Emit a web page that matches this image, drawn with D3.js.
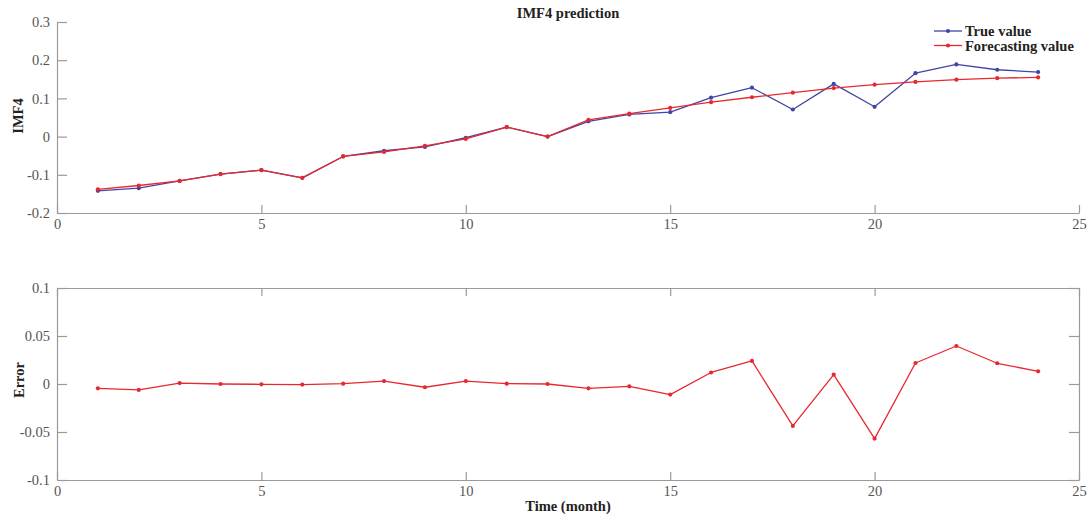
<!DOCTYPE html>
<html>
<head>
<meta charset="utf-8">
<script src="https://cdn.jsdelivr.net/npm/d3@7"></script>
<style>
  html, body { margin: 0; padding: 0; background: #fff; }
  svg { display: block; font-family: "Liberation Serif", "Times New Roman", serif; }
</style>
</head>
<body>
<svg id="chart" width="1092" height="520"></svg>
<script>
// Month index for each observation
const months = [1,2,3,4,5,6,7,8,9,10,11,12,13,14,15,16,17,18,19,20,21,22,23,24];

// IMF4 component: observed values
const trueValues = [-0.142,-0.135,-0.116,-0.098,-0.088,-0.108,-0.052,-0.037,-0.027,-0.003,0.025,0.000,
                    0.040,0.058,0.064,0.102,0.128,0.071,0.138,0.078,0.166,0.189,0.175,0.169];

// IMF4 component: model forecasts
const forecastValues = [-0.138,-0.128,-0.116,-0.098,-0.088,-0.108,-0.052,-0.040,-0.024,-0.006,0.025,0.000,
                        0.044,0.060,0.075,0.090,0.103,0.115,0.127,0.136,0.143,0.149,0.153,0.155];

// Forecast error (observed minus forecast)
const errorValues = [-0.0045,-0.0062,0.001,0.000,-0.0003,-0.0006,0.0003,0.003,-0.0034,0.003,0.0003,0.000,
                     -0.0045,-0.0024,-0.011,0.012,0.024,-0.0437,0.0098,-0.0569,0.0219,0.0396,0.0216,0.0132];

// Tick values
const xTicks = [0,5,10,15,20,25];
const topYTicks = [-0.2,-0.1,0,0.1,0.2,0.3];
const bottomYTicks = [-0.1,-0.05,0,0.05,0.1];

const seriesNames = ["True value", "Forecasting value"];
const blue = "#4045a6";
const red = "#e8282e";
const axisColor = "#9a9a9a";
const labelColor = "#555";

const svg = d3.select("#chart");

const x = d3.scaleLinear().domain([0, 25]).range([57, 1079]);
const yTop = d3.scaleLinear().domain([-0.2, 0.3]).range([213, 22]);
const yBot = d3.scaleLinear().domain([-0.1, 0.1]).range([480, 288]);

const fmt = d => (d === 0 ? "0" : String(d));

function styleAxis(g) {
  g.select(".domain").attr("stroke", axisColor).attr("stroke-width", 1.2);
  g.selectAll(".tick line").attr("stroke", axisColor).attr("stroke-width", 1.2);
  g.selectAll(".tick text").attr("fill", labelColor).attr("font-size", 14.5)
    .attr("font-family", "Liberation Serif, Times New Roman, serif");
}

function drawSeries(g, values, yScale, color) {
  const line = d3.line().x((d, i) => x(months[i])).y(d => yScale(d));
  g.append("path")
    .datum(values)
    .attr("fill", "none")
    .attr("stroke", color)
    .attr("stroke-width", 1.3)
    .attr("stroke-linejoin", "round")
    .attr("d", line);
  g.append("g").selectAll("circle")
    .data(values)
    .join("circle")
    .attr("cx", (d, i) => x(months[i]))
    .attr("cy", d => yScale(d))
    .attr("r", 2.1)
    .attr("fill", color);
}

// ---------- upper panel: IMF4 prediction ----------
const upperPanel = svg.append("g");

upperPanel.append("g")
  .attr("transform", `translate(0,${yTop(-0.2)})`)
  .call(d3.axisBottom(x).tickValues(xTicks).tickFormat(fmt).tickSizeInner(-8).tickSizeOuter(0).tickPadding(6))
  .call(styleAxis);

upperPanel.append("g")
  .attr("transform", `translate(${x(0)},0)`)
  .call(d3.axisLeft(yTop).tickValues(topYTicks).tickFormat(fmt).tickSizeInner(-10).tickSizeOuter(0).tickPadding(7))
  .call(styleAxis);

drawSeries(upperPanel, trueValues, yTop, blue);
drawSeries(upperPanel, forecastValues, yTop, red);

svg.append("text")
  .attr("x", 568).attr("y", 18)
  .attr("text-anchor", "middle")
  .attr("font-size", 14.5).attr("font-weight", "bold").attr("fill", "#222")
  .text("IMF4 prediction");

svg.append("text")
  .attr("transform", `translate(23,116) rotate(-90)`)
  .attr("text-anchor", "middle")
  .attr("font-size", 14.5).attr("font-weight", "bold").attr("fill", "#222")
  .text("IMF4");

// legend
const legend = svg.append("g");
[blue, red].forEach((c, i) => {
  const ly = 31 + i * 14.5;
  legend.append("line").attr("x1", 934).attr("x2", 962).attr("y1", ly).attr("y2", ly)
    .attr("stroke", c).attr("stroke-width", 1.3);
  legend.append("circle").attr("cx", 948).attr("cy", ly).attr("r", 2.1).attr("fill", c);
  legend.append("text").attr("x", 965).attr("y", ly + 5)
    .attr("font-size", 14.5).attr("font-weight", "bold").attr("fill", "#222")
    .text(seriesNames[i]);
});

// ---------- lower panel: Error ----------
const lowerPanel = svg.append("g");

lowerPanel.append("g")
  .attr("transform", `translate(0,${yBot(-0.1)})`)
  .call(d3.axisBottom(x).tickValues(xTicks).tickFormat(fmt).tickSizeInner(-8).tickSizeOuter(0).tickPadding(6))
  .call(styleAxis);

lowerPanel.append("g")
  .attr("transform", `translate(0,${yBot(0.1)})`)
  .call(d3.axisTop(x).tickValues(xTicks).tickFormat("").tickSizeInner(-8).tickSizeOuter(0))
  .call(styleAxis);

lowerPanel.append("g")
  .attr("transform", `translate(${x(0)},0)`)
  .call(d3.axisLeft(yBot).tickValues(bottomYTicks).tickFormat(fmt).tickSizeInner(-10).tickSizeOuter(0).tickPadding(7))
  .call(styleAxis);

lowerPanel.append("g")
  .attr("transform", `translate(${x(25)},0)`)
  .call(d3.axisRight(yBot).tickValues(bottomYTicks).tickFormat("").tickSizeInner(-10).tickSizeOuter(0))
  .call(styleAxis);

drawSeries(lowerPanel, errorValues, yBot, red);

svg.append("text")
  .attr("transform", `translate(23.5,380) rotate(-90)`)
  .attr("text-anchor", "middle")
  .attr("font-size", 14.5).attr("font-weight", "bold").attr("fill", "#222")
  .text("Error");

svg.append("text")
  .attr("x", 568).attr("y", 511)
  .attr("text-anchor", "middle")
  .attr("font-size", 14.5).attr("font-weight", "bold").attr("fill", "#222")
  .text("Time (month)");
</script>
</body>
</html>
